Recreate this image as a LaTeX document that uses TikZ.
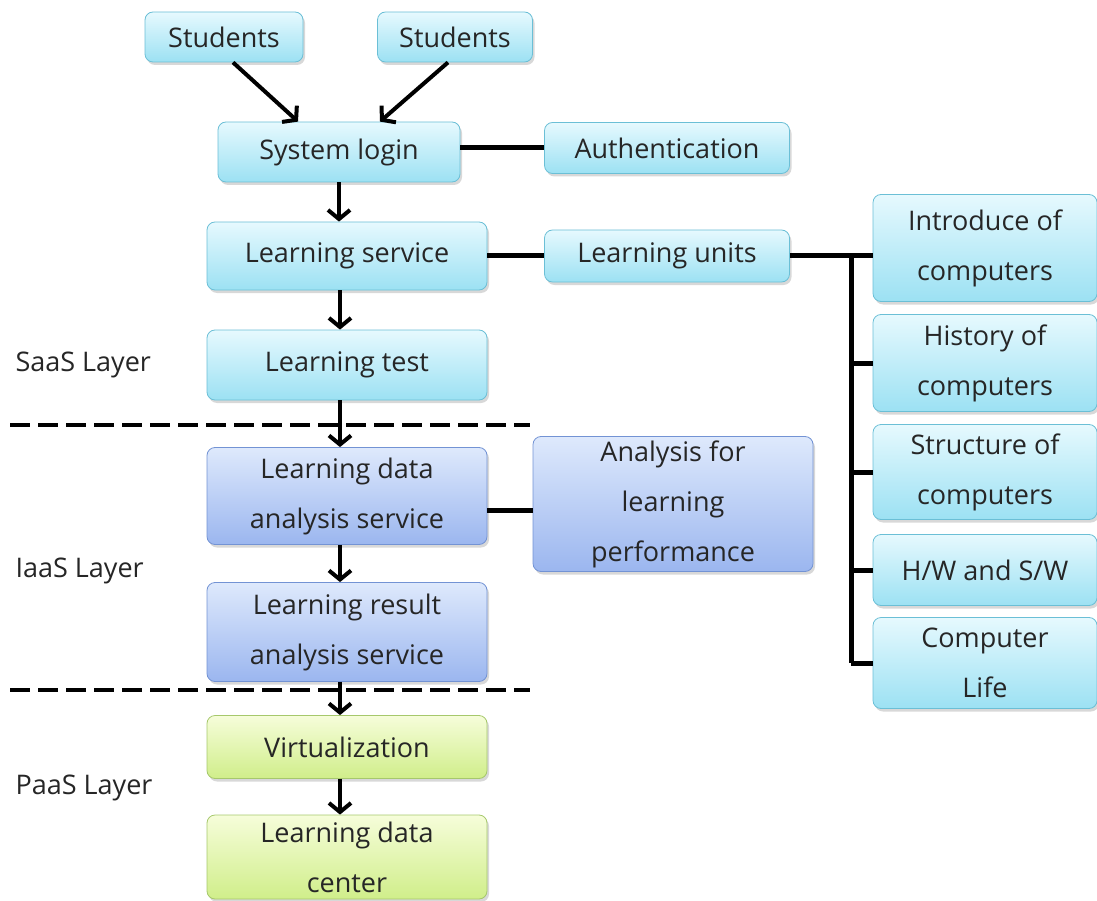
\documentclass[tikz,border=0pt]{standalone}
\usepackage{fontspec}
\setmainfont{Open Sans}
\usepackage{tikz}
\usetikzlibrary{calc, positioning, arrows.meta, shadows}

\definecolor{saastop}{HTML}{E6F9FE}
\definecolor{saasbot}{HTML}{9CE1F3}
\definecolor{saasline}{HTML}{6BBFD6}
\definecolor{iaastop}{HTML}{DEE9FC}
\definecolor{iaasbot}{HTML}{9BB6EF}
\definecolor{iaasline}{HTML}{7393D4}
\definecolor{paastop}{HTML}{F6FDDA}
\definecolor{paasbot}{HTML}{D0EE8A}
\definecolor{paasline}{HTML}{A6C86C}

\begin{document}
\begin{tikzpicture}[
  x=1pt, y=-1pt,
  box/.style={rounded corners=8pt, line width=0.8pt, align=center, inner sep=0pt,
    font=\fontsize{27}{50}\selectfont, text=black!85,
    drop shadow={shadow xshift=2pt, shadow yshift=-3pt, fill=black!30}},
  saas/.style={box, draw=saasline, top color=saastop, bottom color=saasbot},
  iaas/.style={box, draw=iaasline, top color=iaastop, bottom color=iaasbot},
  paas/.style={box, draw=paasline, top color=paastop, bottom color=paasbot},
  flow/.style={draw=black, line width=4pt, -{Straight Barb[length=9pt, width=22pt]}},
  link/.style={draw=black, line width=5pt},
  layer/.style={draw=black, line width=3.5pt, dash pattern=on 20pt off 8pt},
  lab/.style={font=\fontsize{27}{34}\selectfont, text=black!85, anchor=west}
]

\useasboundingbox (0,0) rectangle (1097,901);

% left column
\node[saas, minimum width=158, minimum height=50] (stud1) at (224,37) {Students};
\node[saas, minimum width=155, minimum height=50] (stud2) at (455,37) {Students};
\node[saas, minimum width=242, minimum height=60] (login) at (339,152) {System login};
\node[saas, minimum width=245, minimum height=51] (auth) at (667,148) {Authentication};
\node[saas, minimum width=280, minimum height=68] (service) at (347,256) {Learning service};
\node[saas, minimum width=245, minimum height=52] (units) at (667,256) {Learning units};
\node[saas, minimum width=280, minimum height=70] (test) at (347,365) {Learning test};

\node[iaas, minimum width=280, minimum height=97] (dataan) at (347,496) {Learning data\\analysis service};
\node[iaas, minimum width=280, minimum height=135] (perf) at (673,504) {Analysis for\\learning\\performance};
\node[iaas, minimum width=280, minimum height=99] (resultan) at (347,632) {Learning result\\analysis service};

\node[paas, minimum width=280, minimum height=63] (virt) at (347,747) {Virtualization};
\node[paas, minimum width=280, minimum height=84] (datacenter) at (347,857) {Learning data\\center};

% learning units
\node[saas, minimum width=224, minimum height=107] (intro) at (985,248) {Introduce of\\computers};
\node[saas, minimum width=224, minimum height=97] (history) at (985,363) {History of\\computers};
\node[saas, minimum width=224, minimum height=95] (struct) at (985,472) {Structure of\\computers};
\node[saas, minimum width=224, minimum height=71] (hw) at (985,570) {H/W and S/W};
\node[saas, minimum width=224, minimum height=91] (life) at (985,663) {Computer\\Life};

% layers
\coordinate (saasend) at (10,425);
\coordinate (iaasend) at (10,690);
\draw[layer] (saasend) -- ++(520,0);
\draw[layer] (iaasend) -- ++(520,0);

\node[lab] (saaslab) at (12,365) {SaaS Layer};
\node[lab] (iaaslab) at (12,571) {IaaS Layer};
\node[lab] (paaslab) at (12,788) {PaaS Layer};

% arrows
\draw[flow] ([xshift=9pt]stud1.south) -- ([xshift=-41pt]login.north);
\draw[flow] ([xshift=-7pt]stud2.south) -- ([xshift=41pt]login.north);
\draw[flow] (login.south) -- (login.south |- service.north);
\foreach \a/\b in {service/test, test/dataan, dataan/resultan, resultan/virt, virt/datacenter} {
  \draw[flow] ([xshift=-7pt]\a.south) -- ([xshift=-7pt]\b.north);
}

% links
\draw[link] (login.east |- auth.west) -- (auth.west);
\draw[link] (service.east) -- (units.west);
\draw[link] ([yshift=-14pt]dataan.east) -- ([yshift=-14pt]dataan.east -| perf.west);

\coordinate (bus) at (851,256);
\draw[link] (units.east) -- (units.east -| intro.west);
\draw[link] (bus) -- (bus |- life.west);
\foreach \n in {history, struct, hw, life} {
  \draw[link] (bus |- \n.west) -- (\n.west);
}

\end{tikzpicture}
\end{document}
